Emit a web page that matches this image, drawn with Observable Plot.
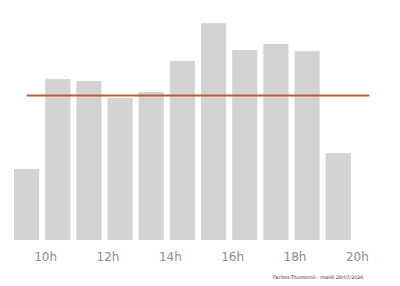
<!DOCTYPE html>
<html>
<head>
<meta charset="utf-8">
<script src="https://cdn.jsdelivr.net/npm/d3@7"></script>
<script src="https://cdn.jsdelivr.net/npm/@observablehq/plot@0.6"></script>
<style>
  html, body { margin: 0; padding: 0; background: #fff; }
  #wrap { position: relative; width: 400px; height: 286px; }
  #caption { position: absolute; left: 273px; top: 275px; font: 4.8px "DejaVu Sans", sans-serif; color: #333; white-space: nowrap; }
</style>
</head>
<body>
<div id="wrap"><div id="chart"></div><div id="caption"></div></div>
<script>
const hours = [9, 10, 11, 12, 13, 14, 15, 16, 17, 18, 19];
const values = [32.3, 73.2, 72.3, 64.5, 67.3, 81.4, 98.6, 86.4, 89.1, 85.9, 39.5];
const reference = 65.9;
const refStart = 9.4, refEnd = 20.4;
const tickHours = [10, 12, 14, 16, 18, 20];
const captionText = "Faches-Thumesnil - mardi 28/07/2026";

const data = hours.map((h, i) => ({hour: h, value: values[i]}));

const chart = Plot.plot({
  width: 400,
  height: 286,
  marginLeft: 14,
  marginRight: 12,
  marginTop: 20,
  marginBottom: 46,
  style: {fontFamily: "DejaVu Sans, sans-serif", fontSize: "12px", color: "#8c8c8c", background: "#fff"},
  x: {domain: [9, 21], ticks: tickHours, tickFormat: d => d + "h", tickSize: 0, tickPadding: 12, label: null},
  y: {domain: [0, 100], axis: null},
  marks: [
    Plot.rectY(data, {x1: "hour", x2: d => d.hour + 1, y: "value", fill: "#d3d3d3", insetRight: 6, insetLeft: 0}),
    Plot.ruleY([reference], {x1: refStart, x2: refEnd, stroke: "#c65a2e", strokeWidth: 2.2})
  ]
});
document.getElementById("chart").appendChild(chart);
document.getElementById("caption").textContent = captionText;
</script>
</body>
</html>
